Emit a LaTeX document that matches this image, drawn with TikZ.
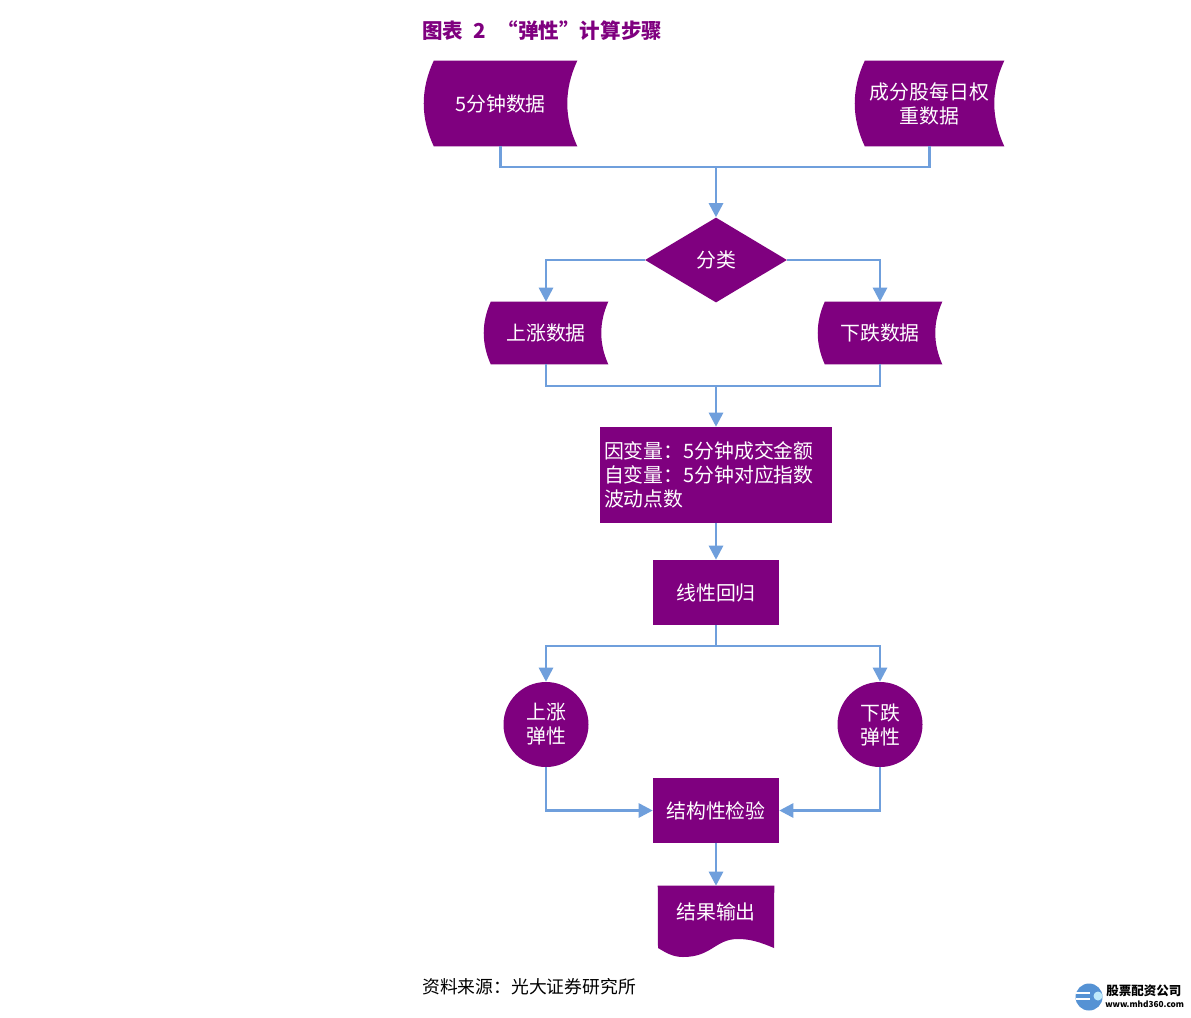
\documentclass[tikz,border=0pt]{standalone}
\usepackage{fontspec}
\setmainfont{Noto Sans CJK SC}
\usetikzlibrary{positioning,arrows.meta,shapes.geometric,calc,backgrounds}
\definecolor{flowpurple}{HTML}{7F007F}
\definecolor{flowblue}{HTML}{6F9FDC}
\tikzset{
  flownode/.style={fill=flowpurple,text=white,inner sep=0pt,align=center,
    font=\fontsize{14.9}{18}\selectfont},
  plainnode/.style={text=white,inner sep=0pt,align=center,
    font=\fontsize{14.9}{18}\selectfont},
  link/.style={draw=flowblue,line width=2pt},
  flow/.style={link,-{Triangle[length=10.5pt,width=10.5pt]}}
}
% purple shape behind a node: bulge on the left, hollow on the right
\newcommand{\storedfill}[2]{
  \fill[flowpurple] ($(#1.north west)+(#2,0)$)
    .. controls ($(#1.north west)!.333!(#1.south west)+(-#2/3,0)$) and ($(#1.north west)!.667!(#1.south west)+(-#2/3,0)$) .. ($(#1.south west)+(#2,0)$)
    -- (#1.south east)
    .. controls ($(#1.north east)!.667!(#1.south east)+(-#2*1.333,0)$) and ($(#1.north east)!.333!(#1.south east)+(-#2*1.333,0)$) .. (#1.north east)
    -- cycle;
}
\begin{document}
\begin{tikzpicture}[x=0.75pt,y=0.75pt]
  \useasboundingbox (0,0) rectangle (1191,-1017);
  \node[anchor=west,inner sep=0pt,text=flowpurple,font=\fontsize{15.4}{18}\bfseries\selectfont] (title) at (422,-31) {图表\hspace{7.5pt}2\hspace{9pt}“弹性”计算步骤};
  \node[plainnode,minimum width=114.75pt,minimum height=63.75pt] (minute) at (500.5,-103.5) {5分钟数据};
  \node[plainnode,minimum width=111.75pt,minimum height=63.75pt] (weight) at (929.5,-103.5) {成分股每日权\\重数据};
  \node[flownode,diamond,minimum width=106.5pt,minimum height=63.75pt] (sort) at (716,-260) {分类};
  \node[plainnode,minimum width=93pt,minimum height=46.5pt] (rise) at (546,-333) {上涨数据};
  \node[plainnode,minimum width=93pt,minimum height=46.5pt] (fall) at (880,-333) {下跌数据};
  \node[flownode,minimum width=174pt,minimum height=72pt,text width=168pt,align=left] (vars) at (716,-475) {因变量：5分钟成交金额\\自变量：5分钟对应指数\\波动点数};
  \node[flownode,minimum width=94.5pt,minimum height=48.75pt] (regress) at (716,-592.5) {线性回归};
  \node[flownode,circle,minimum size=63.75pt] (riseel) at (546,-724.5) {上涨\\弹性};
  \node[flownode,circle,minimum size=63.75pt] (fallel) at (880,-724.5) {下跌\\弹性};
  \node[flownode,minimum width=94.5pt,minimum height=48.75pt] (check) at (716,-810.5) {结构性检验};
  \node[plainnode,minimum width=87pt,minimum height=39pt] (output) at (716,-912) {结果输出};
  \node[anchor=west,inner sep=0pt,font=\fontsize{13.35}{16}\selectfont] (source) at (422,-987) {资料来源：光大证券研究所};
  \begin{scope}[on background layer]
    \fill[white] (0,0) rectangle (1191,-1017);
    \storedfill{minute}{10}
    \storedfill{weight}{10}
    \storedfill{rise}{7}
    \storedfill{fall}{7}
    \fill[flowpurple] (output.north west) -- (output.north east) -- (774,-948)
      .. controls (760,-942) and (750,-939) .. (738,-939)
      .. controls (715,-939) and (712,-957) .. (683,-957)
      .. controls (672,-957) and (665,-952) .. (658,-948) -- cycle;
  \end{scope}
  \coordinate (top) at (716,-167);
  \coordinate (mid) at (716,-386);
  \coordinate (low) at (716,-646);
  \draw[link] (minute.south) |- (top);
  \draw[link] (weight.south) |- (top);
  \draw[flow] (top) -- (sort.north);
  \draw[flow] (sort.west) -| (rise.north);
  \draw[flow] (sort.east) -| (fall.north);
  \draw[link] (rise.south) |- (mid);
  \draw[link] (fall.south) |- (mid);
  \draw[flow] (mid) -- (vars.north);
  \draw[flow] (vars.south) -- (regress.north);
  \draw[link] (regress.south) -- (low);
  \draw[flow] (low) -| (riseel.north);
  \draw[flow] (low) -| (fallel.north);
  \draw[flow] (riseel.south) |- (check.west);
  \draw[flow] (fallel.south) |- (check.east);
  \draw[flow] (check.south) -- (output.north);
  % logo bottom right
  \fill[cyan!55!blue!70!white] (1089,-997) circle [radius=13.5];
  \fill[white] (1076,-992) rectangle (1090,-994);
  \fill[white] (1076,-998) rectangle (1090,-1000);
  \fill[white!75!cyan] (1098,-996) circle [radius=4.5];
  \node[anchor=west,inner sep=0pt,font=\fontsize{9.4}{11}\bfseries\selectfont] (logoname) at (1106,-991) {股票配资公司};
  \node[anchor=west,inner sep=0pt,font=\fontsize{6.2}{8}\bfseries\selectfont] (logourl) at (1105,-1004) {www.mhd360.com};
\end{tikzpicture}
\end{document}
